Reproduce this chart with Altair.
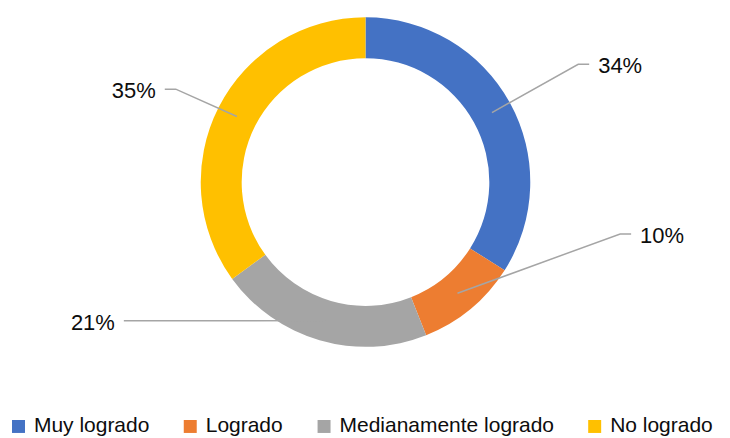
import altair as alt
import numpy as np
import pandas as pd

# ---- data ----
categories = ["Muy logrado", "Logrado", "Medianamente logrado", "No logrado"]
values = [34, 10, 21, 35]
labels = ["34%", "10%", "21%", "35%"]
colors = ["#4472C4", "#ED7D31", "#A5A5A5", "#FFC000"]

# ---- layout ----
W, H = 714, 348
R_OUT, R_IN = 165, 124
R_MID = (R_OUT + R_IN) / 2
FONT = "Liberation Sans"
TXT = "#0d0d0d"

# Excel-style manual label placement: leader elbow offset from the donut centre (px, y down)
label_elbow = [(213, -118), (255, 52), (-231, 139), (-190, -93)]
label_side = [1, 1, -1, -1]
SEG, GAP = 11, 9

vals = np.array(values, dtype=float)
mid = (np.cumsum(vals) - vals / 2) / vals.sum() * 2 * np.pi

donut_df = pd.DataFrame({"cat": categories, "val": values, "idx": range(len(values))})

line_rows, text_rows = [], []
for i, c in enumerate(categories):
    sx, sy = R_MID * np.sin(mid[i]), -R_MID * np.cos(mid[i])
    ex, ey = label_elbow[i]
    s = label_side[i]
    pts = [(sx, sy), (ex, ey), (ex + s * SEG, ey)]
    for k, (px, py) in enumerate(pts):
        line_rows.append({"cat": c, "k": k, "x": px, "y": py})
    text_rows.append({"cat": c, "label": labels[i], "x": ex + s * (SEG + GAP), "y": ey + 2,
                      "side": "right" if s > 0 else "left"})
line_df = pd.DataFrame(line_rows)
text_df = pd.DataFrame(text_rows)

xs = alt.Scale(domain=[-W / 2, W / 2], nice=False, zero=False)
ys = alt.Scale(domain=[-H / 2, H / 2], nice=False, zero=False, reverse=True)

donut = alt.Chart(donut_df).mark_arc(outerRadius=R_OUT, innerRadius=R_IN).encode(
    theta=alt.Theta("val:Q", stack=True),
    order=alt.Order("idx:Q"),
    color=alt.Color(
        "cat:N",
        scale=alt.Scale(domain=categories, range=colors),
        sort=categories,
        legend=alt.Legend(
            title=None,
            orient="none",
            direction="horizontal",
            legendX=-1,
            legendY=408,
            padding=0,
            symbolType="square",
            symbolSize=169,
            symbolStrokeWidth=0,
            symbolOpacity=1,
            labelFont=FONT,
            labelFontSize=21,
            labelColor=TXT,
            labelOffset=5,
            labelLimit=600,
            columnPadding=30,
        ),
    ),
)

leaders = alt.Chart(line_df).mark_line(color="#A5A5A5", strokeWidth=1.5).encode(
    x=alt.X("x:Q", scale=xs, axis=None),
    y=alt.Y("y:Q", scale=ys, axis=None),
    detail="cat:N",
    order="k:Q",
)

text_r = alt.Chart(text_df).transform_filter(alt.datum.side == "right").mark_text(
    align="left", baseline="middle", font=FONT, fontSize=22, color=TXT
).encode(x=alt.X("x:Q", scale=xs, axis=None), y=alt.Y("y:Q", scale=ys, axis=None), text="label:N")

text_l = alt.Chart(text_df).transform_filter(alt.datum.side == "left").mark_text(
    align="right", baseline="middle", font=FONT, fontSize=22, color=TXT
).encode(x=alt.X("x:Q", scale=xs, axis=None), y=alt.Y("y:Q", scale=ys, axis=None), text="label:N")

chart = (
    alt.layer(donut, leaders, text_r, text_l)
    .properties(width=W, height=H, padding=0, background="white")
    .configure_view(stroke=None)
)

chart.save("out.html", embed_options={"renderer": "svg", "actions": False})
